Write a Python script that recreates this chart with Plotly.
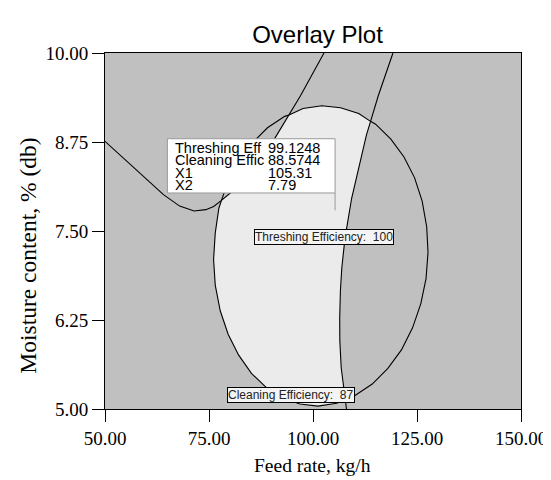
import plotly.graph_objects as go

# ---------------- data ----------------
X_TICKS = [50, 75, 100, 125, 150]
X_TICK_TEXT = ["50.00", "75.00", "100.00", "125.00", "150.00"]
Y_TICKS = [5.0, 6.25, 7.5, 8.75, 10.0]
Y_TICK_TEXT = ["5.00", "6.25", "7.50", "8.75", "10.00"]

# Cleaning Efficiency = 87 contour (closed)
CLEAN87_X = [127.65, 127.33, 126.24, 124.40, 121.87, 118.72, 115.05, 113.84, 110.98, 106.62,
             102.12, 97.60, 94.24, 93.20, 89.05, 85.29, 82.04, 79.37, 78.00, 77.37,
             76.5, 76.1, 76.5, 77.7, 79.6, 82.1, 85.2, 88.8, 92.7, 96.9,
             101.18, 105.70, 107.72, 110.10, 114.24, 118.00, 121.26, 123.93, 125.92, 127.17, 127.65]
CLEAN87_Y = [7.20, 7.56, 7.92, 8.25, 8.54, 8.79, 9.00, 9.04, 9.15, 9.23,
             9.26, 9.22, 9.13, 9.11, 8.95, 8.73, 8.47, 8.16, 7.93, 7.82,
             7.47, 7.10, 6.74, 6.38, 6.05, 5.76, 5.50, 5.30, 5.15, 5.07,
             5.04, 5.08, 5.13, 5.19, 5.35, 5.57, 5.83, 6.14, 6.48, 6.83, 7.20]

# Threshing Efficiency lower-bound contour (left curve)
THRESH_LOW_X = [50.0, 54.94, 60.12, 64.05, 67.95, 71.41, 74.24, 76.12, 78.00, 81.29,
                84.82, 87.88, 90.71, 94.24, 96.99, 102.64]
THRESH_LOW_Y = [8.76, 8.50, 8.22, 8.01, 7.85, 7.78, 7.80, 7.845, 7.93, 8.09,
                8.32, 8.54, 8.79, 9.13, 9.40, 10.0]

# Threshing Efficiency = 100 contour (right curve)
THRESH100_X = [119.22, 115.69, 113.84, 112.85, 109.29, 107.69, 106.92, 106.59, 106.42, 106.45,
               106.78, 107.72, 108.05]
THRESH100_Y = [10.0, 9.40, 9.04, 8.85, 7.96, 7.40, 6.98, 6.66, 6.28, 5.96,
               5.58, 5.13, 5.0]

# contour crossings bounding the feasible (light) region
P_TOP = (113.84, 9.04)
P_BOTTOM = (107.72, 5.13)
P_UPPER_LEFT = (94.24, 9.13)
P_LOWER_LEFT = (78.00, 7.93)

# flag (tooltip) values
FLAG_LABELS = ["Threshing Eff", "Cleaning Effic", "X1", "X2"]
FLAG_VALUES = ["99.1248", "88.5744", "105.31", "7.79"]
FLAG_X1 = 105.31
FLAG_X2 = 7.79

CONTOUR_LABELS = [("Threshing Efficiency:\u00a0 100", 102.66, 7.42),
                  ("Cleaning Efficiency:\u00a0 87", 94.78, 5.197)]


def nearest(xs, ys, pt):
    return min(range(len(xs)), key=lambda i: (xs[i] - pt[0]) ** 2 + (ys[i] - pt[1]) ** 2)


# ---------------- feasible region polygon from the contours ----------------
i_ll = nearest(CLEAN87_X, CLEAN87_Y, P_LOWER_LEFT)
i_br = nearest(CLEAN87_X, CLEAN87_Y, P_BOTTOM)
i_top = nearest(CLEAN87_X, CLEAN87_Y, P_TOP)
i_ul = nearest(CLEAN87_X, CLEAN87_Y, P_UPPER_LEFT)
j_top = nearest(THRESH100_X, THRESH100_Y, P_TOP)
j_br = nearest(THRESH100_X, THRESH100_Y, P_BOTTOM)
k_ll = nearest(THRESH_LOW_X, THRESH_LOW_Y, P_LOWER_LEFT)
k_ul = nearest(THRESH_LOW_X, THRESH_LOW_Y, P_UPPER_LEFT)

reg_x = (CLEAN87_X[i_ll:i_br + 1]
         + list(reversed(THRESH100_X[j_top:j_br + 1]))
         + CLEAN87_X[i_top:i_ul + 1]
         + list(reversed(THRESH_LOW_X[k_ll:k_ul + 1])))
reg_y = (CLEAN87_Y[i_ll:i_br + 1]
         + list(reversed(THRESH100_Y[j_top:j_br + 1]))
         + CLEAN87_Y[i_top:i_ul + 1]
         + list(reversed(THRESH_LOW_Y[k_ll:k_ul + 1])))

fig = go.Figure()
fig.add_trace(go.Scatter(x=reg_x, y=reg_y, mode="lines", fill="toself",
                         fillcolor="#ebebeb", line=dict(width=0, color="rgba(0,0,0,0)"),
                         hoverinfo="skip", showlegend=False))
for xs, ys in [(CLEAN87_X, CLEAN87_Y), (THRESH_LOW_X, THRESH_LOW_Y), (THRESH100_X, THRESH100_Y)]:
    fig.add_trace(go.Scatter(x=xs, y=ys, mode="lines", line=dict(color="black", width=1.1),
                             hoverinfo="skip", showlegend=False))

serif = "Liberation Serif, Times New Roman, serif"
sans = "Liberation Sans, Arial, sans-serif"

# flag box
fig.add_shape(type="rect", xref="x", yref="y", x0=65.0, x1=FLAG_X1, y0=8.034, y1=8.796,
              fillcolor="white", line=dict(color="#9a9a9a", width=1), layer="above")
fig.add_shape(type="line", xref="x", yref="y", x0=FLAG_X1, x1=FLAG_X1, y0=8.034, y1=FLAG_X2,
              line=dict(color="#9a9a9a", width=1), layer="above")
row_y = [8.671, 8.497, 8.320, 8.146]
for lab, val, yy in zip(FLAG_LABELS, FLAG_VALUES, row_y):
    fig.add_annotation(x=66.4, y=yy, xref="x", yref="y", text=lab, showarrow=False,
                       xanchor="left", yanchor="middle", font=dict(family=sans, size=14.5, color="black"))
    fig.add_annotation(x=88.75, y=yy, xref="x", yref="y", text=val, showarrow=False,
                       xanchor="left", yanchor="middle", font=dict(family=sans, size=14.5, color="black"))

for txt, xx, yy in CONTOUR_LABELS:
    fig.add_annotation(x=xx, y=yy, xref="x", yref="y", text=txt, showarrow=False,
                       xanchor="center", yanchor="middle", bgcolor="#f4f4f4",
                       bordercolor="black", borderwidth=1, borderpad=0,
                       font=dict(family=sans, size=12, color="#222222"))

# axis titles
fig.add_annotation(x=0.4988, y=(401 - 457) / 356, xref="paper", yref="paper", text="Feed rate, kg/h",
                   showarrow=False, xanchor="center", yanchor="middle",
                   font=dict(family=serif, size=19.5, color="black"))
fig.add_annotation(x=(18 - 97) / 425, y=(401 - 248) / 356, xref="paper", yref="paper",
                   text="Moisture content, % (db)",
                   showarrow=False, textangle=-90, xanchor="center", yanchor="middle",
                   font=dict(family=serif, size=23.5, color="black"))

fig.update_layout(
    width=551, height=480, autosize=False,
    margin=dict(l=97, r=29, t=45, b=79, pad=0),
    paper_bgcolor="white", plot_bgcolor="#c0c0c0",
    title=dict(text="Overlay Plot", x=309.5 / 551, xanchor="center", y=1 - 27 / 480, yanchor="middle",
               font=dict(family=sans, size=24, color="black")),
    showlegend=False,
)
axis_common = dict(showgrid=False, zeroline=False, showline=True, linecolor="black", linewidth=1,
                   mirror=True, ticks="outside", ticklen=12, tickwidth=1, tickcolor="black",
                   tickfont=dict(family=serif, size=19, color="black"))
fig.update_xaxes(range=[50, 150], tickvals=X_TICKS, ticktext=X_TICK_TEXT, **axis_common)
fig.update_yaxes(range=[5, 10], tickvals=Y_TICKS, ticktext=Y_TICK_TEXT, **axis_common)

fig.write_html("out.html")
